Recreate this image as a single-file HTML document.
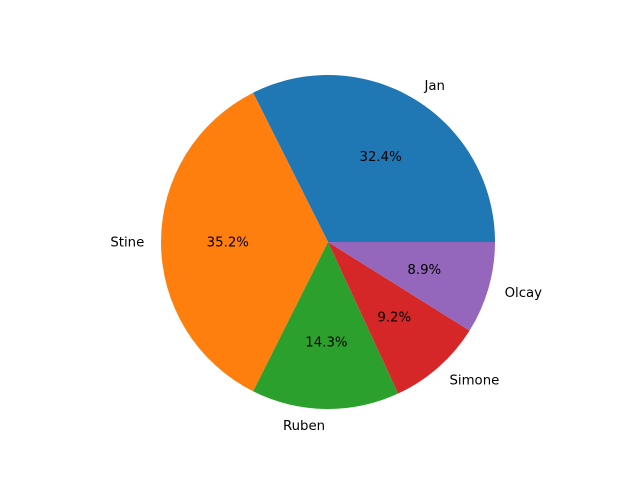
<!DOCTYPE html>
<html><head><meta charset="utf-8"><style>
body{margin:0;background:#fff}
svg text{font-family:"DejaVu Sans","Liberation Sans",sans-serif;font-size:13.3px;fill:#000}
</style></head><body>
<svg id="chart" width="640" height="480" xmlns="http://www.w3.org/2000/svg"></svg>
<script>
const categories = ["Jan","Stine","Ruben","Simone","Olcay"];
const values = [32.4, 35.2, 14.3, 9.2, 8.9];
const colors = ["#1f77b4","#ff7f0e","#2ca02c","#d62728","#9467bd"];
const svg = document.getElementById('chart');
const NS = "http://www.w3.org/2000/svg";
const cx = 328, cy = 242, R = 167;
const total = values.reduce((a,b)=>a+b,0);
function pt(r, deg){const a=deg*Math.PI/180;return [cx+r*Math.cos(a), cy-r*Math.sin(a)];}
let start = 0;
values.forEach((v,i)=>{
  const sweep = v/total*360, end = start+sweep;
  const p0 = pt(R,start), p1 = pt(R,end);
  const path = document.createElementNS(NS,'path');
  path.setAttribute('d',`M${cx},${cy} L${p0[0]},${p0[1]} A${R},${R} 0 ${sweep>180?1:0} 0 ${p1[0]},${p1[1]} Z`);
  path.setAttribute('fill',colors[i]);
  
  
  svg.appendChild(path);
  const mid = start + sweep/2;
  const lp = pt(R*1.1, mid);
  const lab = document.createElementNS(NS,'text');
  lab.setAttribute('x',lp[0]); lab.setAttribute('y',lp[1]+1);
  lab.setAttribute('text-anchor', Math.cos(mid*Math.PI/180) >= 0 ? 'start' : 'end');
  lab.setAttribute('dominant-baseline','central');
  lab.textContent = categories[i];
  
  
  svg.appendChild(lab);
  const pp = pt(R*0.6, mid);
  const pct = document.createElementNS(NS,'text');
  pct.setAttribute('x',pp[0]); pct.setAttribute('y',pp[1]+1);
  pct.setAttribute('text-anchor','middle');
  pct.setAttribute('dominant-baseline','central');
  pct.textContent = (v/total*100).toFixed(1)+'%';
  
  
  svg.appendChild(pct);
  start = end;
});
</script>
</body></html>
